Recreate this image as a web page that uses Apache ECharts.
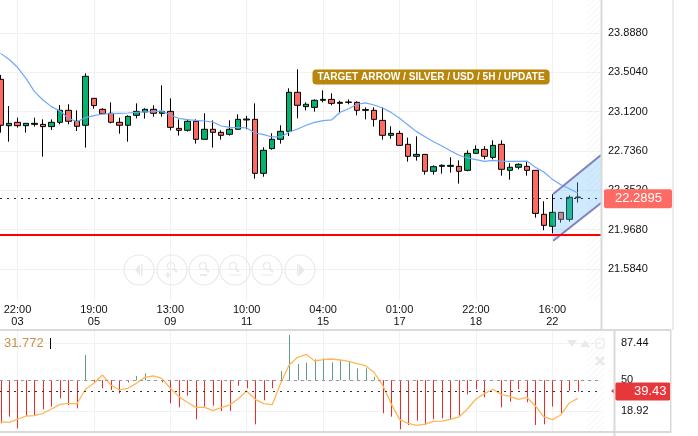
<!DOCTYPE html>
<html><head><meta charset="utf-8">
<style>html,body{margin:0;padding:0;background:#fff}#c{width:698px;height:436px}</style>
<script src="https://cdn.jsdelivr.net/npm/echarts@6/dist/echarts.min.js"></script>
</head><body><div id="c"></div>
<script>
const opens=[23.436,22.983,23.016,22.983,22.996,22.996,22.974,23.016,23.133,23.026,22.987,23.250,23.143,23.104,23.016,22.987,23.084,23.117,23.143,23.104,23.123,22.957,22.938,23.026,22.850,22.948,22.918,22.899,22.948,23.039,23.045,22.518,22.759,22.850,22.928,23.309,23.169,23.162,23.231,23.240,23.201,23.211,23.211,23.133,23.133,23.035,22.889,22.908,22.801,22.684,22.703,22.538,22.586,22.586,22.586,22.547,22.713,22.752,22.674,22.801,22.547,22.577,22.586,22.547,22.118,22.001,22.137,22.069,22.280];
const closes=[22.987,23.006,22.983,23.006,23.006,22.974,23.016,23.133,23.026,22.977,23.465,23.179,23.100,23.016,22.987,23.074,23.123,23.143,23.104,23.123,22.967,22.938,23.026,22.850,22.948,22.918,22.889,22.948,23.045,23.048,22.518,22.743,22.850,22.928,23.309,23.182,23.192,23.231,23.240,23.201,23.211,23.214,23.133,23.140,23.045,22.889,22.908,22.791,22.684,22.703,22.538,22.583,22.596,22.596,22.538,22.713,22.752,22.684,22.791,22.557,22.577,22.606,22.547,22.127,22.010,22.137,22.069,22.284,22.287];
const lows=[22.915,22.827,22.964,22.915,22.974,22.681,22.941,22.996,22.996,22.931,22.769,23.149,23.100,23.006,22.905,22.827,23.055,23.052,23.071,23.071,22.938,22.886,22.925,22.808,22.850,22.769,22.847,22.886,22.948,22.948,22.466,22.485,22.749,22.808,22.882,23.055,23.133,23.120,23.211,23.182,23.104,23.192,23.084,23.045,22.974,22.847,22.856,22.791,22.632,22.642,22.505,22.505,22.515,22.525,22.417,22.538,22.713,22.655,22.655,22.495,22.456,22.557,22.495,22.085,21.962,21.932,22.036,22.046,22.232];
const highs=[23.478,23.175,23.061,23.006,23.061,23.045,23.045,23.185,23.192,23.133,23.494,23.250,23.153,23.211,23.061,23.084,23.201,23.153,23.182,23.377,23.250,23.045,23.045,23.045,23.104,23.035,22.938,23.035,23.094,23.078,23.201,22.772,22.909,22.987,23.348,23.533,23.211,23.240,23.328,23.299,23.227,23.240,23.221,23.162,23.162,23.162,22.977,22.934,22.866,22.879,22.703,22.596,22.606,22.674,22.645,22.743,22.791,22.782,22.840,22.840,22.616,22.616,22.635,22.547,22.245,22.313,22.137,22.303,22.430];
const maLine=[23.689,23.631,23.553,23.445,23.315,23.234,23.169,23.127,23.055,23.022,23.061,23.081,23.097,23.100,23.104,23.107,23.114,23.117,23.120,23.127,23.087,23.055,23.042,23.035,23.029,23.019,22.980,22.967,22.964,22.961,22.912,22.895,22.873,22.873,22.921,22.951,22.987,23.016,23.032,23.039,23.114,23.149,23.192,23.205,23.185,23.156,23.113,23.055,22.990,22.925,22.876,22.827,22.785,22.739,22.694,22.668,22.651,22.635,22.645,22.635,22.635,22.635,22.638,22.577,22.531,22.459,22.407,22.368,22.326];
const rsiBars=[6.5,13.2,1.4,13.9,13.9,20.6,23.3,31.7,25,21.6,75.3,47.8,41.8,40.1,36.7,47.8,54.2,56.9,50,47.8,26.6,22.6,34.4,10.5,23.3,24.3,18.9,18.9,44.4,41.8,5.5,29.7,41.8,59.2,95.5,66.3,67.6,71,72,68,70,68.6,61.9,61.9,53.5,16.6,13.2,0.4,4.8,9.2,4.8,10.5,11.5,10.9,14.2,35.7,40.8,32.7,50,22.6,28.3,40.8,27.7,4.8,5.5,23.3,16.6,39.4,38.4];
const rsiLine=[8.2,7.5,10.5,13.9,14.2,16.6,20.9,25.6,26.6,26,40.8,46.8,55.2,45.1,40.1,41.8,46.8,52.8,54.2,51.8,41.8,33.4,27.7,22.6,22.9,19.3,22.3,25,31.3,39.1,30.7,26.3,25.3,46.8,65.3,73,76,69.3,70.6,71.3,70.3,69,66.6,64.6,57.9,45.1,26.6,10.5,6.5,4.5,5.8,8.5,8.8,10.5,12.9,20.9,31,36.4,40.8,35.4,33.7,30.7,32.7,24,12.9,10.2,14.9,27,31.7];
const timeTicks=[2,11,20,29,38,47,56,65];
const timeLabels=['22:00','19:00','13:00','10:00','04:00','01:00','22:00','16:00'];
const dayLabels=['03','05','09','11','15','17','18','22'];
const priceTicks=[21.584,21.968,22.352,22.736,23.12,23.504,23.888];
const rsiTicks=[18.92,50,87.44];
const channelX=[65.1,70.73];
const channelUpper=[22.316,22.697];
const channelLower=[21.860,22.228];
const supportLevel=21.916;
const lastLevel=22.274, lastText='22.2895';
const rsiLast='39.43', rsiLastLevel=38.6, rsiRef=50;
const annotation='TARGET ARROW / SILVER / USD / 5H / UPDATE';
const rsiTitle='31.772';

const font='"Liberation Sans",Arial,sans-serif';
const grid='#f1f1f1', band='#d9d9d9', ghost='#e9e9e9';
const xMin=-0.059,xMax=70.73;
const candleRows=opens.map((o,i)=>[i,o,closes[i],lows[i],highs[i]]);
const idx=a=>a.map((v,i)=>[i,v]);

function hatch(){const c=document.createElement('canvas');c.width=c.height=6;const g=c.getContext('2d');
 g.strokeStyle='rgba(0,0,0,0.045)';g.lineWidth=1;g.beginPath();g.moveTo(0,6);g.lineTo(6,0);g.moveTo(-3,3);g.lineTo(3,-3);g.moveTo(3,9);g.lineTo(9,3);g.stroke();return c;}
const rect=(x,y,w,h,fill,z)=>({type:'rect',silent:true,z:z||20,shape:{x,y,width:w,height:h},style:{fill}});
const navX=[139,172,204,235,267,300], navY=270;
const navSt={fill:'none',stroke:ghost,lineWidth:1.2};
const navEls=navX.map(x=>({type:'circle',silent:true,z:1,shape:{cx:x,cy:navY,r:15},style:navSt}));
const tri=(pts,fill)=>({type:'polygon',silent:true,z:1,shape:{points:pts},style:{fill:fill||ghost}});
const ln=(a,b,c,d,w)=>({type:'line',silent:true,z:1,shape:{x1:a,y1:b,x2:c,y2:d},style:{stroke:ghost,lineWidth:w||1.5}});
const mag=(x,y)=>[{type:'circle',silent:true,z:1,shape:{cx:x,cy:y,r:3.5},style:navSt},ln(x+2.5,y+2.5,x+6,y+6,2)];
const navGlyphs=[
 tri([[135,270],[140,264],[140,276]]),rect(141,264,1.5,12,ghost,1),
 ...mag(171,266),ln(165,275,171,275),ln(168,272,168,278),
 ...mag(203,266),ln(200,275,207,275,2),
 ...mag(233,266),ln(229,275,241,275,1),
 ...mag(267,266),ln(261,275,273,275,1),
 tri([[305,270],[299,264],[299,276]]),rect(297,264,1.5,12,ghost,1)
];
const graphicEls=[
 {type:'rect',silent:true,z:1,shape:{x:587,y:0,width:14,height:300},style:{fill:{image:hatch(),repeat:'repeat'}}},
 {type:'rect',silent:true,z:1,shape:{x:587,y:332,width:17,height:99},style:{fill:{image:hatch(),repeat:'repeat'}}},
 ...navEls,...navGlyphs,
 rect(0,329,671,2,band), rect(0,431,671,2,band),
 rect(600.5,0,2,330,band), rect(613.5,330,2,106,band), rect(670,330,1.5,103,band), rect(672.5,0,1,330,band),
 {type:'text',silent:true,z:30,x:312.5,y:69.5,style:{text:annotation,font:'bold 10.1px '+font,fill:'#fff',backgroundColor:'#b8860b',padding:[2.5,5,2.5,5],borderRadius:4}},
 {type:'text',silent:true,z:30,x:4,y:337,style:{text:rsiTitle,font:'13px '+font,fill:'#c8924a'}},
 rect(50,338,1,11,'#000',30),
 tri([[567,340],[577,340],[572,347]]),tri([[580,347],[590,347],[585,340]]),
 {type:'rect',silent:true,z:1,shape:{x:596,y:339,width:8,height:9},style:{fill:'none',stroke:ghost}},
 ln(596,357,604,365,2.5),ln(604,357,596,365,2.5),
 tri([[611,391],[616,387],[616,395]],'#e8373a')
];

const chart=echarts.init(document.getElementById('c'),null,{renderer:'canvas'});
chart.setOption({
 animation:false,backgroundColor:'#fff',
 grid:[{left:0,top:0,width:601,height:301,containLabel:false},{left:0,top:331,width:601,height:100,containLabel:false}],
 xAxis:[
  {type:'value',gridIndex:0,min:xMin,max:xMax,axisLine:{show:false},axisTick:{show:false,customValues:timeTicks},
   splitLine:{show:true,lineStyle:{color:grid}},
   axisLabel:{customValues:timeTicks,margin:3,color:'#111',fontFamily:font,fontSize:11,lineHeight:12,hideOverlap:false,showMinLabel:true,showMaxLabel:true,
    formatter:v=>{const k=timeTicks.indexOf(v);return k<0?'':timeLabels[k]+'\n'+dayLabels[k];}}},
  {type:'value',gridIndex:1,min:xMin,max:xMax,axisLine:{show:false},axisTick:{show:false,customValues:timeTicks},axisLabel:{show:false},
   splitLine:{show:true,lineStyle:{color:grid}}}
 ],
 yAxis:[
  {type:'value',gridIndex:0,position:'right',min:21.2716,max:24.210,axisLine:{show:false},axisTick:{show:false,customValues:priceTicks},
   splitLine:{show:true,lineStyle:{color:grid}},
   axisLabel:{customValues:priceTicks,inside:false,margin:7,color:'#111',fontFamily:font,fontSize:11,formatter:v=>v.toFixed(4)}},
  {type:'value',gridIndex:1,position:'right',min:-1.23,max:99.53,axisLine:{show:false},axisTick:{show:false,customValues:rsiTicks},
   splitLine:{show:true,lineStyle:{color:grid}},
   axisLabel:{customValues:rsiTicks,margin:20,color:'#111',fontFamily:font,fontSize:11,formatter:v=>String(v)}}
 ],
 series:[
  {type:'candlestick',name:'price',xAxisIndex:0,yAxisIndex:0,layout:'horizontal',z:2,barWidth:6,data:candleRows,encode:{x:0,y:[1,2,3,4]},
   itemStyle:{color:'#00b46e',color0:'#ff6a60',borderColor:'#000',borderColor0:'#000',borderColorDoji:'#000',borderWidth:1},
   markLine:{silent:true,symbol:'none',z:5,animation:false,data:[
    {yAxis:supportLevel,lineStyle:{color:'#f00',width:2,type:'solid'},label:{show:false}},
    {yAxis:lastLevel,lineStyle:{color:'#333',width:1,type:[2,5]},
     label:{show:true,position:'end',distance:3,formatter:lastText,color:'#fff',fontFamily:font,fontSize:13,backgroundColor:'#ff6a64',borderRadius:2,padding:[3,10,3,11]}}
   ]}},
  {type:'line',name:'ma',xAxisIndex:0,yAxisIndex:0,z:3,data:idx(maLine),showSymbol:false,symbol:'none',lineStyle:{color:'#6ea8fa',width:1.2}},
  {type:'custom',name:'channel',xAxisIndex:0,yAxisIndex:0,z:4,data:[[channelX[0],channelUpper[0],channelLower[0]],[channelX[1],channelUpper[1],channelLower[1]]],encode:{x:0,y:[1,2]},
   renderItem:(p,api)=>{ if(p.dataIndex!==0)return null;
    const a=api.coord([channelX[0],channelUpper[0]]),b=api.coord([channelX[1],channelUpper[1]]),c=api.coord([channelX[1],channelLower[1]]),d=api.coord([channelX[0],channelLower[0]]);
    return {type:'group',children:[
     {type:'polygon',shape:{points:[a,b,c,d]},style:{fill:'rgba(110,190,245,0.33)'}},
     {type:'line',shape:{x1:a[0],y1:a[1],x2:b[0],y2:b[1]},style:{stroke:'#8180c4',lineWidth:2}},
     {type:'line',shape:{x1:d[0],y1:d[1],x2:c[0],y2:c[1]},style:{stroke:'#8180c4',lineWidth:2}}
    ]};}},
  {type:'custom',name:'rsiStems',xAxisIndex:1,yAxisIndex:1,z:2,data:idx(rsiBars),encode:{x:0,y:1},
   renderItem:(p,api)=>{const x=api.value(0),v=api.value(1); if(v===rsiRef)return null;
    const a=api.coord([x,rsiRef]),b=api.coord([x,v]);
    return {type:'line',shape:{x1:Math.round(a[0])+.5,y1:a[1],x2:Math.round(b[0])+.5,y2:b[1]},style:{stroke:v>rsiRef?'#5f9f80':'#ee2b2b',lineWidth:1}};}},
  {type:'line',name:'rsi',xAxisIndex:1,yAxisIndex:1,z:3,data:idx(rsiLine),showSymbol:false,symbol:'none',lineStyle:{color:'#ffb757',width:1.3},
   markLine:{silent:true,symbol:'none',z:5,animation:false,data:[
    {yAxis:rsiRef,lineStyle:{color:'#999',width:1,type:[3,4]},label:{show:false}},
    {yAxis:rsiLastLevel,lineStyle:{color:'#333',width:1,type:[2,5]},
     label:{show:true,position:'end',distance:14,formatter:rsiLast,color:'#fff',fontFamily:font,fontSize:13,backgroundColor:'#e8373a',borderRadius:2,padding:[3,4,2,19]}}
   ]}}
 ],
 graphic:{elements:graphicEls}
});
</script></body></html>
